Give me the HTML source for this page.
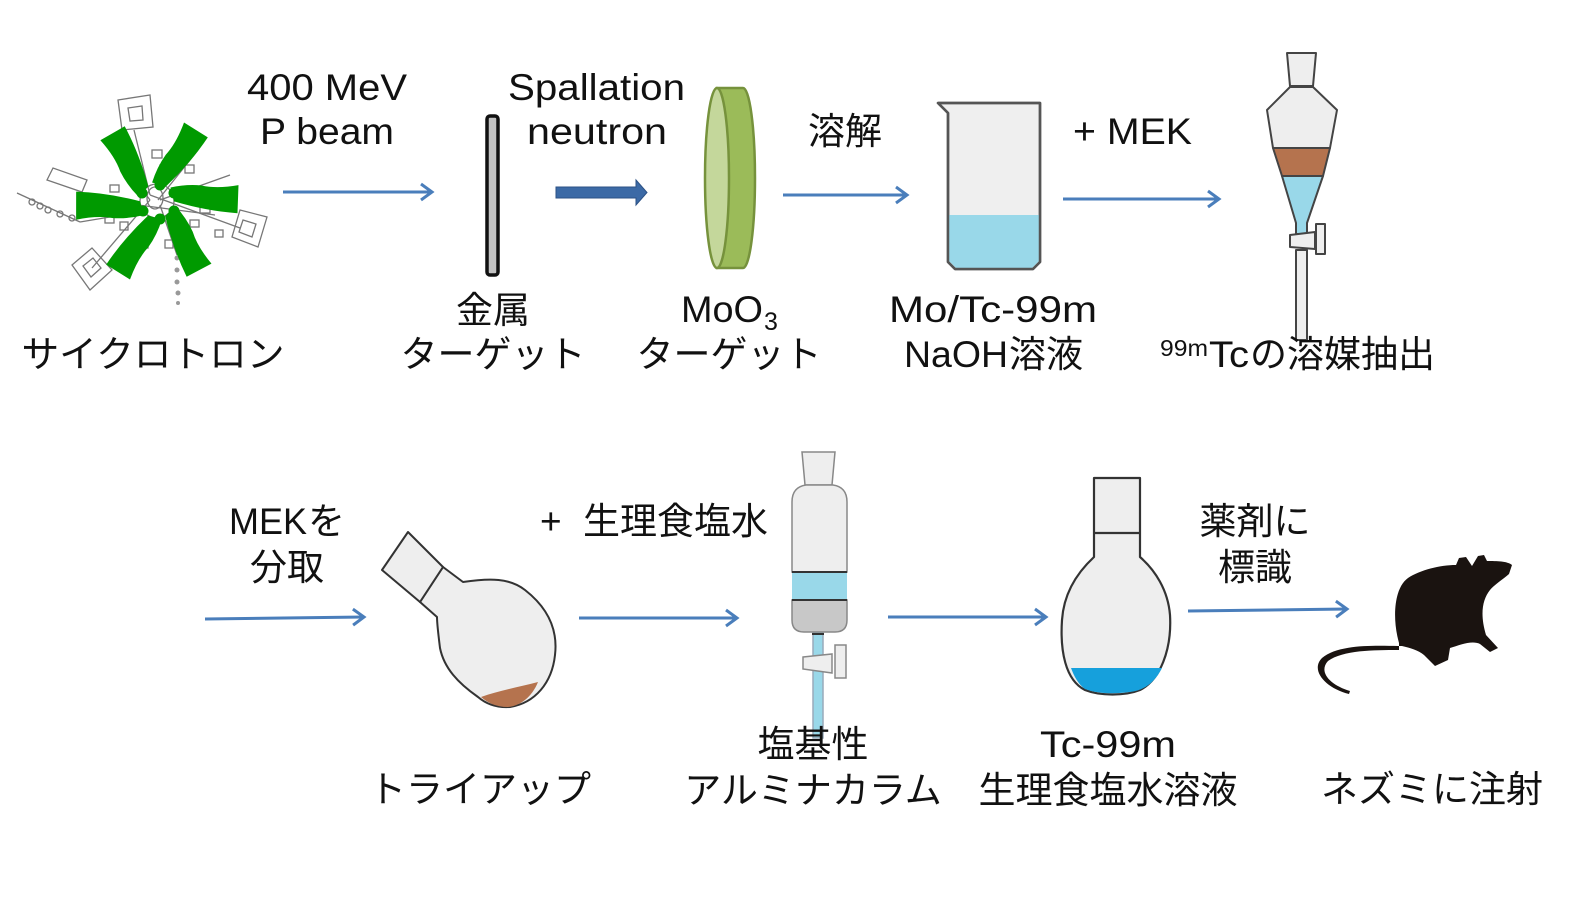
<!DOCTYPE html>
<html><head><meta charset="utf-8">
<style>
html,body{margin:0;padding:0;background:#fff;}
svg{display:block;}
text{font-family:"Liberation Sans","Noto Sans CJK JP",sans-serif;font-size:37px;fill:#111;}
</style></head>
<body>
<svg width="1573" height="900" viewBox="0 0 1573 900" xmlns="http://www.w3.org/2000/svg">
<defs>
<marker id="ah" markerWidth="20" markerHeight="20" refX="14" refY="10" orient="auto" markerUnits="userSpaceOnUse">
<path d="M3,2 L14,10 L3,18" fill="none" stroke="#4a7ebb" stroke-width="3"/>
</marker>
<path id="blade" d="M-13,-14 L1,-17 Q12,-50 15,-80 L-13,-82 Q-10,-60 -14,-45 Q-16,-30 -13,-14 Z"/>
</defs>

<!-- ===== Cyclotron ===== -->
<g stroke="#777" stroke-width="1.3" fill="none">
<polygon points="118,100 150,95 153,127 122,130"/>
<polygon points="128,108 142,106 143,120 130,121"/>
<polygon points="240,210 267,217 258,247 232,237"/>
<polygon points="243,220 256,224 252,237 239,232"/>
<polygon points="72,265 92,248 112,270 90,290"/>
<polygon points="83,266 93,258 101,268 91,277"/>
<polygon points="47,180 53,168 87,180 82,192"/>
<line x1="17" y1="193" x2="80" y2="222"/>
<line x1="80" y1="222" x2="140" y2="212"/>
<line x1="134" y1="130" x2="150" y2="195"/>
<line x1="150" y1="195" x2="240" y2="228"/>
<line x1="150" y1="200" x2="92" y2="268"/>
<line x1="158" y1="200" x2="198" y2="150"/>
<line x1="160" y1="205" x2="177" y2="255"/>
<line x1="160" y1="200" x2="230" y2="175"/>
<line x1="150" y1="200" x2="120" y2="160"/>
<line x1="100" y1="200" x2="215" y2="215"/>
<rect x="152" y="150" width="10" height="8"/>
<rect x="160" y="165" width="9" height="7"/>
<rect x="105" y="215" width="9" height="8"/>
<rect x="120" y="222" width="8" height="8"/>
<rect x="190" y="220" width="9" height="7"/>
<rect x="200" y="205" width="10" height="8"/>
<rect x="165" y="240" width="8" height="8"/>
<rect x="110" y="185" width="9" height="7"/>
<rect x="185" y="165" width="9" height="8"/>
<rect x="140" y="240" width="8" height="8"/>
<rect x="215" y="230" width="8" height="7"/>
<rect x="132" y="165" width="8" height="8"/>
<rect x="95" y="205" width="8" height="7"/>
<circle cx="32" cy="202" r="3"/>
<circle cx="40" cy="206" r="3"/>
<circle cx="48" cy="210" r="3"/>
<circle cx="60" cy="214" r="3"/>
<circle cx="72" cy="218" r="3"/>
<ellipse cx="155" cy="198" rx="8" ry="11"/>
<circle cx="157" cy="201" r="17"/>
</g>
<g fill="#999">
<circle cx="177" cy="258" r="2.5"/><circle cx="177" cy="270" r="2.5"/>
<circle cx="177" cy="282" r="2.5"/><circle cx="178" cy="293" r="2.5"/>
<circle cx="178" cy="303" r="2"/>
</g>
<g fill="#009a00" transform="translate(157,201)">
<use href="#blade" transform="rotate(-34)"/>
<use href="#blade" transform="rotate(28)"/>
<use href="#blade" transform="rotate(88)"/>
<use href="#blade" transform="rotate(148)"/>
<use href="#blade" transform="rotate(208)"/>
<use href="#blade" transform="rotate(266)"/>
</g>
<g fill="#009a00">
<circle cx="142" cy="193" r="5.5"/><circle cx="160" cy="185" r="5.5"/>
<circle cx="174" cy="193" r="5.5"/><circle cx="174" cy="211" r="5.5"/>
<circle cx="160" cy="219" r="5.5"/><circle cx="143" cy="211" r="5.5"/>
</g>

<!-- ===== Metal target ===== -->
<rect x="487" y="116" width="11" height="159" rx="3" fill="#c3c3c3" stroke="#111" stroke-width="3.5"/>

<!-- thick arrow -->
<path d="M556,187 L636,187 L636,180 L647,192.5 L636,205 L636,198 L556,198Z" fill="#3c6aa6" stroke="#2c5286" stroke-width="1"/>

<!-- ===== MoO3 disk ===== -->
<g stroke="#76923c" stroke-width="2.5">
<path d="M717,88 L743,88 A12,90 0 0 1 743,268 L717,268Z" fill="#9bbb59"/>
<ellipse cx="717" cy="178" rx="12" ry="90" fill="#c4d79b"/>
</g>

<!-- ===== Beaker ===== -->
<path d="M938,103 L1040,103 L1040,262 L1033,269 L955,269 L948,262 L948,113 Z" fill="#efefef" stroke="#555" stroke-width="2.5" stroke-linejoin="round"/>
<path d="M949,215 L1039,215 L1039,261 L1032,268 L956,268 L949,261Z" fill="#99d8e9"/>
<path d="M938,103 L1040,103 L1040,262 L1033,269 L955,269 L948,262 L948,113 Z" fill="none" stroke="#555" stroke-width="2.5" stroke-linejoin="round"/>

<!-- ===== Separatory funnel ===== -->
<g stroke="#444" stroke-width="2" stroke-linejoin="round">
<rect x="1296" y="250" width="11" height="90" fill="#eeeeee"/>
<path d="M1287,53 L1316,53 L1313,86 L1290,86Z" fill="#eeeeee"/>
<path d="M1290,87 L1313,87 L1337,110 L1330,148 L1273,148 L1267,110Z" fill="#eeeeee"/>
<path d="M1273,148 L1330,148 L1323,176 L1282,176Z" fill="#b5734e"/>
<path d="M1282,176 L1323,176 L1307,223 L1307,234 L1296,234 L1296,223Z" fill="#99d8e9"/>
<path d="M1290,235 L1315,232 L1315,249 L1290,247Z" fill="#eeeeee"/>
<rect x="1316" y="224" width="9" height="30" fill="#eeeeee"/>
</g>

<!-- ===== Arrows ===== -->
<g stroke="#4a7ebb" stroke-width="3" fill="none" marker-end="url(#ah)">
<line x1="283" y1="192" x2="432" y2="192"/>
<line x1="783" y1="195" x2="907" y2="195"/>
<line x1="1063" y1="199" x2="1219" y2="199"/>
<line x1="205" y1="619" x2="364" y2="617"/>
<line x1="579" y1="618" x2="737" y2="618"/>
<line x1="888" y1="617" x2="1046" y2="617"/>
<line x1="1188" y1="611" x2="1347" y2="609"/>
</g>

<!-- ===== Trial flask ===== -->
<g stroke="#333" stroke-width="2" stroke-linejoin="round">
<path d="M443,567 L463,582 C490,578 510,578 525,590 C548,608 558,630 555,655 C552,683 535,703 510,707 C495,708 485,703 478,697 C458,683 444,668 440,648 C438,632 437,624 437,617 L420,602 Z" fill="#eeeeee"/>
<path d="M382,570 L408,532 L443,567 L420,602Z" fill="#eeeeee"/>
<path d="M481,697 C500,690 520,687 538,682 C532,697 520,706 508,707 C496,707 488,703 481,697Z" fill="#b5734e" stroke="none"/>
</g>

<!-- ===== Alumina column ===== -->
<g stroke="#555" stroke-width="1.5">
<rect x="813" y="632" width="10" height="106" fill="#99d8e9" stroke="#9ab"/>
<path d="M802,452 L835,452 L832,485 L805,485Z" fill="#eeeeee" stroke="#888"/>
<path d="M806,485 L833,485 Q847,487 847,502 L847,572 L792,572 L792,502 Q792,487 806,485Z" fill="#eeeeee" stroke="#888"/>
<rect x="792" y="572" width="55" height="28" fill="#99d8e9" stroke="none"/>
<path d="M792,600 L847,600 L847,620 Q847,632 835,632 L804,632 Q792,632 792,620Z" fill="#c8c8c8" stroke="#888"/>
<line x1="792" y1="572" x2="847" y2="572" stroke="#333" stroke-width="2"/>
<line x1="792" y1="600" x2="847" y2="600" stroke="#333" stroke-width="2"/>
<line x1="812" y1="634" x2="824" y2="634" stroke="#333" stroke-width="2"/>
<path d="M803,657 L832,654 L832,673 L803,669Z" fill="#eeeeee" stroke="#888"/>
<rect x="835" y="645" width="11" height="33" fill="#eeeeee" stroke="#888"/>
</g>

<!-- ===== Round flask ===== -->
<g stroke="#333" stroke-width="2.2" stroke-linejoin="round">
<path d="M1094,478 L1140,478 L1140,557 C1155,570 1168,590 1170,615 C1172,650 1160,680 1140,690 C1125,696 1100,696 1085,690 C1065,680 1060,650 1062,620 C1064,590 1080,570 1094,557Z" fill="#eeeeee"/>
<line x1="1094" y1="533" x2="1140" y2="533"/>
<path d="M1071,668 L1162,668 C1155,682 1145,690 1130,692 C1115,694 1098,694 1085,689 C1078,684 1074,676 1071,668Z" fill="#16a0dc" stroke="none"/>
</g>

<!-- ===== Mouse ===== -->
<path d="M1399,643 C1392,618 1394,588 1408,578 C1420,570 1440,565 1456,565 L1459,558 L1466,557 L1472,566 L1478,556 L1484,555 L1487,561 C1497,561 1507,561 1512,565 L1509,574 C1502,580 1494,585 1490,590 C1482,600 1480,615 1486,635 L1498,648 L1490,652 L1480,644 C1472,640 1460,645 1450,648 L1448,660 L1435,666 L1424,655 C1418,650 1410,648 1402,646 C1380,646 1340,643 1322,658 C1310,670 1325,688 1349,694 L1350,691 C1330,685 1318,672 1328,661 C1343,650 1375,650 1399,650 Z" fill="#1a1310"/>

<!-- ===== Text row 1 ===== -->
<text x="247" y="100" textLength="160" lengthAdjust="spacingAndGlyphs">400 MeV</text>
<text x="260" y="144" textLength="134" lengthAdjust="spacingAndGlyphs">P beam</text>
<text x="508" y="100" textLength="177" lengthAdjust="spacingAndGlyphs">Spallation</text>
<text x="527" y="144" textLength="140" lengthAdjust="spacingAndGlyphs">neutron</text>
<text x="845" y="144" text-anchor="middle">溶解</text>
<text x="1073" y="144" textLength="119" lengthAdjust="spacingAndGlyphs">+ MEK</text>

<text x="153" y="367" text-anchor="middle" textLength="263" lengthAdjust="spacingAndGlyphs">サイクロトロン</text>
<text x="493" y="323" text-anchor="middle">金属</text>
<text x="493" y="367" text-anchor="middle">ターゲット</text>
<text x="681" y="322" textLength="82" lengthAdjust="spacingAndGlyphs">MoO</text>
<text x="764" y="330" style="font-size:25px">3</text>
<text x="729" y="367" text-anchor="middle">ターゲット</text>
<text x="889" y="322" textLength="208" lengthAdjust="spacingAndGlyphs">Mo/Tc-99m</text>
<text x="904" y="367" textLength="104" lengthAdjust="spacingAndGlyphs">NaOH</text>
<text x="1009" y="367">溶液</text>
<text x="1160" y="356" style="font-size:23px" textLength="48" lengthAdjust="spacingAndGlyphs">99m</text>
<text x="1209" y="367" textLength="40" lengthAdjust="spacingAndGlyphs">Tc</text>
<text x="1250" y="367">の溶媒抽出</text>

<!-- ===== Text row 2 ===== -->
<text x="229" y="534" textLength="78" lengthAdjust="spacingAndGlyphs">MEK</text>
<text x="308" y="534">を</text>
<text x="287" y="580" text-anchor="middle">分取</text>
<text x="540" y="534">+</text>
<text x="583" y="534">生理食塩水</text>
<text x="1255" y="534" text-anchor="middle">薬剤に</text>
<text x="1255" y="580" text-anchor="middle">標識</text>

<text x="813" y="757" text-anchor="middle">塩基性</text>
<text x="813" y="803" text-anchor="middle">アルミナカラム</text>
<text x="1040" y="757" textLength="136" lengthAdjust="spacingAndGlyphs">Tc-99m</text>
<text x="1108" y="803" text-anchor="middle">生理食塩水溶液</text>
<text x="480" y="802" text-anchor="middle">トライアップ</text>
<text x="1432" y="802" text-anchor="middle">ネズミに注射</text>
</svg>
</body></html>
